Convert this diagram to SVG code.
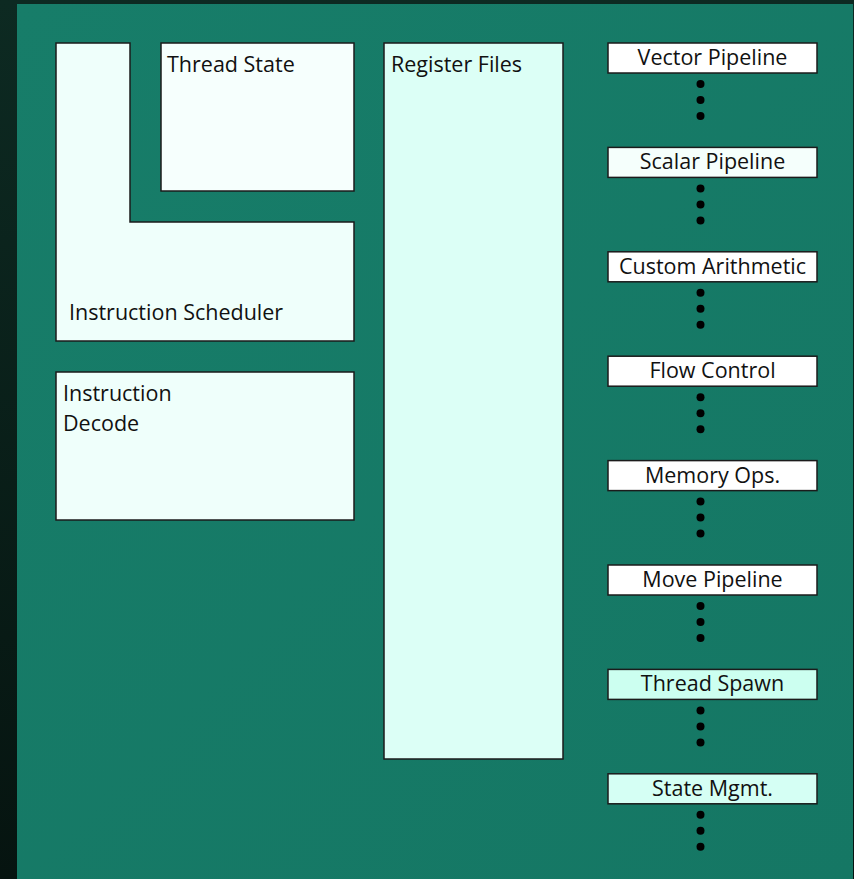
<svg xmlns="http://www.w3.org/2000/svg" width="854" height="879" viewBox="0 0 854 879">
  <defs>
    <linearGradient id="edge" x1="0" y1="0" x2="0" y2="1">
      <stop offset="0" stop-color="#0d2a22"/>
      <stop offset="1" stop-color="#061410"/>
    </linearGradient>
    <linearGradient id="panel" x1="0" y1="0" x2="1" y2="1">
      <stop offset="0" stop-color="#177d69"/>
      <stop offset="1" stop-color="#157764"/>
    </linearGradient>
  </defs>
  <style>
    .box { stroke: #1b1b1b; stroke-width: 1.5; }
    .lbl { font-family: "Open Sans", Lato, "Liberation Sans", sans-serif; font-size: 21.5px; fill: #111; font-variant-ligatures: none; }
    .mid { text-anchor: middle; }
    .dot { fill: #000; }
  </style>

  <!-- backdrop -->
  <rect x="0" y="0" width="854" height="879" fill="url(#edge)"/>
  <rect x="17" y="4" width="836" height="875" fill="url(#panel)"/>

  <!-- left-column units -->
  <g id="instruction-scheduler">
    <path class="box" d="M56,43 H130 V222 H354 V341 H56 Z" fill="#effffb"/>
    <text class="lbl" x="69" y="320">Instruction Scheduler</text>
  </g>
  <g id="thread-state">
    <rect class="box" x="161" y="43" width="193" height="148" fill="#f6fffd"/>
    <text class="lbl" x="167" y="72">Thread State</text>
  </g>
  <g id="instruction-decode">
    <rect class="box" x="56" y="372" width="298" height="148" fill="#effffb"/>
    <text class="lbl" x="63" y="401">Instruction</text>
    <text class="lbl" x="63" y="431">Decode</text>
  </g>
  <g id="register-files">
    <rect class="box" x="384" y="43" width="179" height="716" fill="#dcfff6"/>
    <text class="lbl" x="391" y="72">Register Files</text>
  </g>

  <!-- pipeline column -->
  <g id="vector-pipeline">
    <rect class="box" x="608" y="43" width="209" height="30" fill="#ffffff"/>
    <text class="lbl mid" x="712.5" y="65">Vector Pipeline</text>
  </g>
  <g id="scalar-pipeline">
    <rect class="box" x="608" y="147.4" width="209" height="30" fill="#f5fffc"/>
    <text class="lbl mid" x="712.5" y="169.4">Scalar Pipeline</text>
  </g>
  <g id="custom-arithmetic">
    <rect class="box" x="608" y="251.8" width="209" height="30" fill="#ffffff"/>
    <text class="lbl mid" x="712.5" y="273.8">Custom Arithmetic</text>
  </g>
  <g id="flow-control">
    <rect class="box" x="608" y="356.2" width="209" height="30" fill="#ffffff"/>
    <text class="lbl mid" x="712.5" y="378.2">Flow Control</text>
  </g>
  <g id="memory-ops">
    <rect class="box" x="608" y="460.6" width="209" height="30" fill="#ffffff"/>
    <text class="lbl mid" x="712.5" y="482.6">Memory Ops.</text>
  </g>
  <g id="move-pipeline">
    <rect class="box" x="608" y="565" width="209" height="30" fill="#ffffff"/>
    <text class="lbl mid" x="712.5" y="587">Move Pipeline</text>
  </g>
  <g id="thread-spawn">
    <rect class="box" x="608" y="669.4" width="209" height="30" fill="#ccfff0"/>
    <text class="lbl mid" x="712.5" y="691.4">Thread Spawn</text>
  </g>
  <g id="state-mgmt">
    <rect class="box" x="608" y="773.8" width="209" height="30" fill="#d5fff4"/>
    <text class="lbl mid" x="712.5" y="795.8">State Mgmt.</text>
  </g>

  <!-- ellipsis connectors under each pipeline -->
  <g id="connectors" class="dot">
    <circle cx="700.5" cy="84" r="4"/><circle cx="700.5" cy="100" r="4"/><circle cx="700.5" cy="116" r="4"/>
    <circle cx="700.5" cy="188.4" r="4"/><circle cx="700.5" cy="204.4" r="4"/><circle cx="700.5" cy="220.4" r="4"/>
    <circle cx="700.5" cy="292.8" r="4"/><circle cx="700.5" cy="308.8" r="4"/><circle cx="700.5" cy="324.8" r="4"/>
    <circle cx="700.5" cy="397.2" r="4"/><circle cx="700.5" cy="413.2" r="4"/><circle cx="700.5" cy="429.2" r="4"/>
    <circle cx="700.5" cy="501.6" r="4"/><circle cx="700.5" cy="517.6" r="4"/><circle cx="700.5" cy="533.6" r="4"/>
    <circle cx="700.5" cy="606" r="4"/><circle cx="700.5" cy="622" r="4"/><circle cx="700.5" cy="638" r="4"/>
    <circle cx="700.5" cy="710.4" r="4"/><circle cx="700.5" cy="726.4" r="4"/><circle cx="700.5" cy="742.4" r="4"/>
    <circle cx="700.5" cy="814.8" r="4"/><circle cx="700.5" cy="830.8" r="4"/><circle cx="700.5" cy="846.8" r="4"/>
  </g>
</svg>
